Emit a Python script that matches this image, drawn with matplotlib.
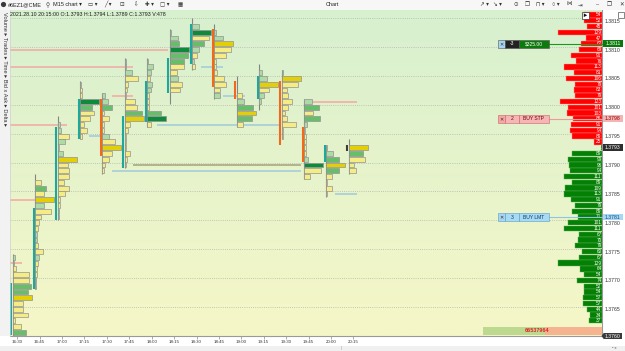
import numpy as np
import matplotlib
matplotlib.use("Agg")
import matplotlib.pyplot as plt
from matplotlib.patches import Rectangle, Circle, Polygon

plt.rcParams['font.family'] = ['Liberation Sans', 'DejaVu Sans']

PIP = 0.0001

# ---------------- data ----------------
time_labels = ["16:30", "16:45", "17:00", "17:15", "17:30", "17:45", "18:00", "18:15",
               "18:30", "18:45", "19:00", "19:15", "19:30", "19:45", "20:00", "20:15"]

bar_open  = [1.3761, 1.3769, 1.3781, 1.3795, 1.3801, 1.3790, 1.3798, 1.3803,
             1.3808, 1.3813, 1.3804, 1.3802, 1.3804, 1.3796, 1.3791, 1.3793]
bar_close = [1.3769, 1.3782, 1.3796, 1.3801, 1.3792, 1.3798, 1.3804, 1.3808,
             1.3814, 1.3804, 1.3802, 1.3805, 1.3794, 1.3791, 1.3793, 1.3793]
bar_high  = [1.3774, 1.3788, 1.3798, 1.3804, 1.3802, 1.3808, 1.3808, 1.3813,
             1.3815, 1.3814, 1.3805, 1.3807, 1.3806, 1.3801, 1.3793, 1.3794]
bar_low   = [1.3758, 1.3769, 1.3781, 1.3795, 1.3789, 1.3790, 1.3797, 1.3801,
             1.3807, 1.3802, 1.3797, 1.3800, 1.3795, 1.3788, 1.3785, 1.3789]

# footprint: top price row, per-row volumes (top -> bottom), per-row colour code
fp_top = [1.3774, 1.3787, 1.3797, 1.3804, 1.3802, 1.3808, 1.3808, 1.3813,
          1.3814, 1.3813, 1.3802, 1.3806, 1.3806, 1.3801, 1.3793, 1.3793]
fp_vol = [
    [14, 8, 26, 130, 130, 144, 120, 152, 80, 80, 118, 18, 66, 104],
    [43, 86, 74, 152, 74, 126, 46, 32, 22, 18, 16, 22, 66, 34, 26, 16, 14, 10, 8],
    [22, 24, 90, 62, 10, 40, 150, 78, 90, 90, 50, 90, 62, 20, 16, 12, 8],
    [8, 12, 12, 150, 94, 114, 82, 32, 58, 18],
    [24, 42, 78, 10, 50, 16, 16, 50, 98, 150, 78, 50, 24, 12],
    [8, 8, 54, 102, 26, 18, 12, 82, 94, 134, 146, 40, 26, 12, 12, 12, 40, 16, 8],
    [8, 42, 32, 24, 38, 32, 16, 16, 16, 112, 150, 30],
    [14, 62, 74, 146, 142, 114, 114, 56, 66, 94, 82],
    [58, 152, 138, 94, 58, 38, 18, 26],
    [16, 70, 154, 136, 90, 12, 12, 22, 74, 96, 48, 48],
    [40, 58, 126, 146, 118, 50],
    [22, 62, 150, 74, 34, 16],
    [14, 146, 128, 40, 46, 78, 48, 28, 40, 112, 8, 8],
    [62, 114, 70, 122, 22, 8, 12, 12, 16, 18, 32, 144, 130, 42],
    [6, 54, 94, 146, 98, 46, 8, 40, 8],
    [149, 110, 127, 37, 55],
]
fp_col = [
    "llyyyggYyyyyyg",
    "ygyYlyyyyllyylyyyll",
    "llylylYyyyyyyyyll",
    "lyyGgyyyyy",
    "llgyyyylyYyyyy",
    "lllyyyyyygYyyyyyyyy",
    "lllyllyyygGy",
    "llgGggyylyy",
    "lGyglyly",
    "llYyyyyyyyyl",
    "ylgYgy",
    "llYyll",
    "lYyyyyyyyyyy",
    "lgyglyyyyylGyy",
    "llgYgyyyy",
    "Ygyyy",
]

# session volume profile (right side), from top price row downwards
prof_top = 1.3816
prof_vol = [54, 52, 45, 129, 47, 62, 69, 91, 76, 113, 81, 106, 79, 83, 79, 123, 101, 103,
            86, 91, 94, 89, 25,
            1,
            89, 99, 96, 94, 111, 89, 109, 113, 91, 79, 89, 71, 101, 111, 67, 70, 79, 60,
            67, 129, 64, 54, 74, 52, 54, 57, 57, 44, 34, 37]
last_price = 1.3793
session_total = "66537964"

# level lines: price, from bar, to bar, kind
lvl_price = [1.3810, 1.3807, 1.3802, 1.3797, 1.3784, 1.3773, 1.3801,
             1.3795, 1.3797, 1.3807, 1.3802, 1.3785, 1.3789, 1.3790]
lvl_from  = [-1.0, -1.0, 4.23, -1.0, -1.0, -1.0, 13.14,
             3.20, 6.24, 8.19, 9.18, 14.18, 4.23, 5.17]
lvl_to    = [6.71, 5.17, 5.17, 2.22, 0.79, 0.21, 15.15,
             3.78, 11.73, 9.17, 10.17, 15.15, 12.66, 12.66]
lvl_kind  = ["p", "p", "p", "p", "p", "p", "p",
             "b", "b", "b", "b", "b", "b", "o"]

# working orders
order_price = [1.3811, 1.3798, 1.3781]
order_qty   = ["-3", "2", "3"]
order_text  = ["$325.00", "BUY STP", "BUY LMT"]

price_ticks = [1.3765, 1.3770, 1.3775, 1.3780, 1.3785, 1.3790, 1.3795,
               1.3800, 1.3805, 1.3810, 1.3815]

# ---------------- layout / style ----------------
W, H = 625, 351
PL, PR, PT, PB = 10, 602, 10, 336      # plot box in pixels
X0, DX = 17.3, 22.4                    # pixel of bar 0 label, px per bar
Y_REF_P, Y_REF_PX, PXPIP = 1.3815, 20.7, 5.772

col_map = {'G': '#0d8a3a', 'g': '#66bf68', 'l': '#acdba3',
           'Y': '#e3cf06', 'y': '#f6ec84'}
lvl_col = {'p': '#f3a8a2', 'b': '#9fcadb', 'o': '#a5a07c'}
TEAL, ORANGE, DOJI = '#1ea89c', '#f2691c', '#3c3c3c'

fig = plt.figure(figsize=(W / 100, H / 100), dpi=100)
fig.patch.set_facecolor('white')
ax = fig.add_axes([PL / W, 1 - PB / H, (PR - PL) / W, (PB - PT) / H])
ax.set_zorder(1)

xmin = (PL - X0) / DX
xmax = (PR - X0) / DX
ytop = Y_REF_P + (Y_REF_PX - PT) / PXPIP * PIP
ybot = Y_REF_P - (PB - Y_REF_PX) / PXPIP * PIP
ax.set_xlim(xmin, xmax)
ax.set_ylim(ybot, ytop)

# background gradient
grad = np.linspace(0, 1, 256).reshape(-1, 1)
top_c = np.array([0xd7, 0xf0, 0xcf]) / 255
bot_c = np.array([0xf6, 0xf7, 0xc7]) / 255
img = top_c[None, None, :] * (1 - grad[:, :, None]) + bot_c[None, None, :] * grad[:, :, None]
ax.imshow(img, extent=[0, 1, 0, 1], transform=ax.transAxes, aspect='auto', zorder=0)

# dotted grid (drawn at the top edge of each labelled row, as in the reference)
grid_off = 0.42 * PIP
ax.hlines(np.array(price_ticks) + grid_off, xmin, xmax, colors='#b3b3b3',
          linestyles=(0, (1, 1.6)), linewidth=0.6, zorder=1)

# level lines
for p, a, b, k in zip(lvl_price, lvl_from, lvl_to, lvl_kind):
    ax.hlines(p, a, b, colors=lvl_col[k], linewidth=1.1, zorder=2)

# footprint candles
fp_maxw = 19.0 / DX
for i in range(len(time_labels)):
    vols = np.array(fp_vol[i], dtype=float)
    prices = fp_top[i] - np.arange(len(vols)) * PIP
    widths = vols / vols.max() * fp_maxw
    ax.vlines(i - 0.205, bar_low[i] - 0.5 * PIP, bar_high[i] + 0.5 * PIP,
              colors='#858585', linewidth=0.8, zorder=2.5)
    ax.barh(prices, widths, left=i - 0.2, height=0.84 * PIP,
            color=[col_map[c] for c in fp_col[i]], edgecolor='#929292',
            linewidth=0.5, zorder=3)
    o, c = bar_open[i], bar_close[i]
    bc = TEAL if c > o else (ORANGE if c < o else DOJI)
    ax.vlines(i - 0.262, min(o, c) - 0.5 * PIP, max(o, c) + 0.5 * PIP,
              colors=bc, linewidth=1.5, zorder=4)

# session profile on the right
pv = np.array(prof_vol, dtype=float)
pp = prof_top - np.arange(len(pv)) * PIP
pw = pv * 0.34 / DX
pw = np.maximum(pw, 1.2 / DX)
is_ask = pp > last_price + PIP / 2
pcol = np.where(is_ask, '#ff0000', '#048004')
pedge = np.where(is_ask, '#ff8a8a', '#5fb05f')
ax.barh(pp, pw, left=xmax - pw, height=0.92 * PIP, color=pcol, edgecolor=pedge,
        linewidth=0.3, zorder=5)
for p, v in zip(pp, prof_vol):
    ax.text(xmax - 0.5 / DX, p, str(v), ha='right', va='center', fontsize=3.4,
            color='white', zorder=6, clip_on=True)

# session total strip
ax.add_patch(Rectangle(((483 - PL) / (PR - PL), (PB - 335) / (PB - PT)),
                       (545 - 483) / (PR - PL), 8 / (PB - PT), transform=ax.transAxes,
                       facecolor='#bdd98f', edgecolor='none', zorder=5))
ax.add_patch(Rectangle(((545 - PL) / (PR - PL), (PB - 335) / (PB - PT)),
                       (PR - 545) / (PR - PL), 8 / (PB - PT), transform=ax.transAxes,
                       facecolor='#f6b390', edgecolor='none', zorder=5))
ax.text((537 - PL) / (PR - PL), (PB - 331) / (PB - PT), session_total,
        transform=ax.transAxes, ha='center', va='center', fontsize=3.9,
        color='#e0202a', fontweight='bold', zorder=6)

# axes styling
for s in ['top', 'left']:
    ax.spines[s].set_visible(False)
for s in ['right', 'bottom']:
    ax.spines[s].set_color('#9a9a9a')
    ax.spines[s].set_linewidth(0.8)
ax.set_xticks(range(len(time_labels)))
ax.set_xticklabels(time_labels)
ax.tick_params(axis='x', length=2, width=0.5, color='#888888', pad=1.2,
               labelsize=3.2, labelcolor='#333333')
ax.yaxis.tick_right()
ax.set_yticks(price_ticks)
ax.set_yticklabels([f"{p:.4f}" for p in price_ticks])
ax.tick_params(axis='y', length=0, pad=2.2, labelsize=3.7, labelcolor='#333333')

# ---------------- chrome overlay (pixel coordinates) ----------------
ov = fig.add_axes([0, 0, 1, 1])
ov.set_xlim(0, W)
ov.set_ylim(H, 0)
ov.axis('off')
ov.patch.set_visible(False)
ov.set_zorder(5)

fig.canvas.draw()


def price_py(p):
    return H - ax.transData.transform((0, p))[1]


# toolbar
ov.add_patch(Rectangle((0, 0), W, 9.5, facecolor='#f7f7f7', edgecolor='none'))
ov.add_patch(Circle((3.5, 4.5), 2.6, facecolor='#3a3a3a', edgecolor='none'))
ov.text(8, 4.7, "#6EZ1@CME", fontsize=4.0, va='center', ha='left', color='#222222')
ov.text(46, 4.7, "⚲", fontsize=4.0, va='center', ha='left', color='#333333')
ov.text(53, 4.7, "M15 chart ▾", fontsize=4.0, va='center', ha='left', color='#222222')
for x, g in [(88, "▭ ▾"), (104, "╱ ▾"), (120, "⊡"), (133, "⇩"), (145, "✚ ▾"), (160, "▢ ▾"), (178, "▦")]:
    ov.text(x, 4.7, g, fontsize=4.0, va='center', ha='left', color='#333333')
ov.text(326, 4.7, "Chart", fontsize=4.0, va='center', ha='left', color='#222222')
for x, g in [(480, "↗ ▾"), (493, "↘ ▾"), (514, "⊙"), (525, "❐"), (536, "⊓ ▾"), (552, "○ ▾"),
             (566, "⋈"), (578, "⇥"), (596, "–"), (607, "❐"), (619, "✕")]:
    ov.text(x, 4.7, g, fontsize=4.0, va='center', ha='left', color='#333333')

# left sidebar
ov.add_patch(Rectangle((0, 9.5), PL, PB - 9.5, facecolor='#f2f2f2', edgecolor='none'))
ov.plot([PL, PL], [9.5, PB], color='#d0d0d0', lw=0.5)
ov.text(4.8, 12, "Volume ▸ Trades ▸ Time ▸ Bid x Ask ▸ Delta ▸", rotation=270,
        fontsize=4.1, ha='center', va='top', color='#333333')

# bottom strip
ov.add_patch(Rectangle((0, 345.5), W, 5.5, facecolor='#f0f0f0', edgecolor='none'))
ov.text(341, 348.3, "⁞", fontsize=3.5, va='center', ha='center', color='#777777')
ov.text(612, 348.3, "▪ ▸", fontsize=3.2, va='center', ha='left', color='#888888')

# info line
o15, h15, l15, c15 = bar_open[-1], bar_high[-1], bar_low[-1], bar_close[-1]
info = (f"2021.28.10 20:15:00 O:{o15:.4f} H:{h15:.4f} L:{l15:.4f} "
        f"C:{c15:.4f} V:{sum(fp_vol[-1])}")
ov.text(10.5, 14.3, info, fontsize=3.8, va='center', ha='left', color='#1a1a1a')

# scroll button top-right in plot
ov.add_patch(Rectangle((582, 12), 6.5, 6.5, facecolor='white', edgecolor='#333333', lw=0.5))
ov.add_patch(Polygon([[583.8, 13.4], [583.8, 17.1], [587.2, 15.25]], closed=True,
                     facecolor='#111111', edgecolor='none'))
ov.add_patch(Rectangle((618, 12), 6, 6, facecolor='white', edgecolor='#555555', lw=0.5))

# working-order widgets
order_style = [
    # x-box fill, qty fill, qty text colour, label fill, label text colour, border, line
    ('#a6d6f2', '#222222', 'white', '#0c7a0c', 'white', '#555555', '#1a9a1a'),
    ('#f4a9a9', '#f4b6b6', '#7a0000', '#f4b6b6', '#7a0000', '#d06060', '#f29a9a'),
    ('#a6d6f2', '#a9daf4', '#0b3a66', '#a9daf4', '#0b3a66', '#5a9ac8', '#8cc4e4'),
]
for p, q, t, st in zip(order_price, order_qty, order_text, order_style):
    yc = price_py(p)
    xf, qf, qc, lf, lc, bd, ln = st
    ov.plot([548.5, PR], [yc, yc], color=ln, lw=0.8, zorder=1)
    ov.add_patch(Rectangle((498, yc - 3.8), 7, 7.6, facecolor=xf, edgecolor=bd, lw=0.4))
    ov.text(501.5, yc + 0.1, "✕", fontsize=3.6, ha='center', va='center', color='#333333')
    ov.add_patch(Rectangle((505, yc - 3.8), 14, 7.6, facecolor=qf, edgecolor=bd, lw=0.4))
    ov.text(512, yc + 0.1, q, fontsize=3.6, ha='center', va='center', color=qc)
    ov.add_patch(Rectangle((519, yc - 3.8), 29.5, 7.6, facecolor=lf, edgecolor=bd, lw=0.4))
    ov.text(533.7, yc + 0.1, t, fontsize=3.6, ha='center', va='center', color=lc)

# special price-axis labels
axis_tags = [
    (order_price[0], '#0b7a0b', 'white'),
    (order_price[1], '#f5b4b4', '#8a0000'),
    (last_price, '#2e2e2e', 'white'),
    (order_price[2], '#a8d8f4', '#0b4a80'),
]
for p, fc, tc in axis_tags:
    yc = price_py(p)
    ov.add_patch(Rectangle((603, yc - 3.4), 20, 6.8, facecolor=fc, edgecolor='none'))
    ov.text(613, yc + 0.1, f"{p:.4f}", fontsize=3.7, ha='center', va='center', color=tc)
# crosshair price tag at bottom
bottom_price = ax.transData.inverted().transform((0, H - PB))[1]
ov.add_patch(Rectangle((604, PB - 3.4), 18, 6.8, facecolor='#3a3a3a', edgecolor='none'))
ov.add_patch(Polygon([[601.5, PB], [604, PB - 3.4], [604, PB + 3.4]], closed=True,
                     facecolor='#3a3a3a', edgecolor='none'))
ov.text(613, PB + 0.1, f"{bottom_price:.4f}", fontsize=3.7, ha='center', va='center',
        color='white')

fig.savefig("out.png", dpi=100)
